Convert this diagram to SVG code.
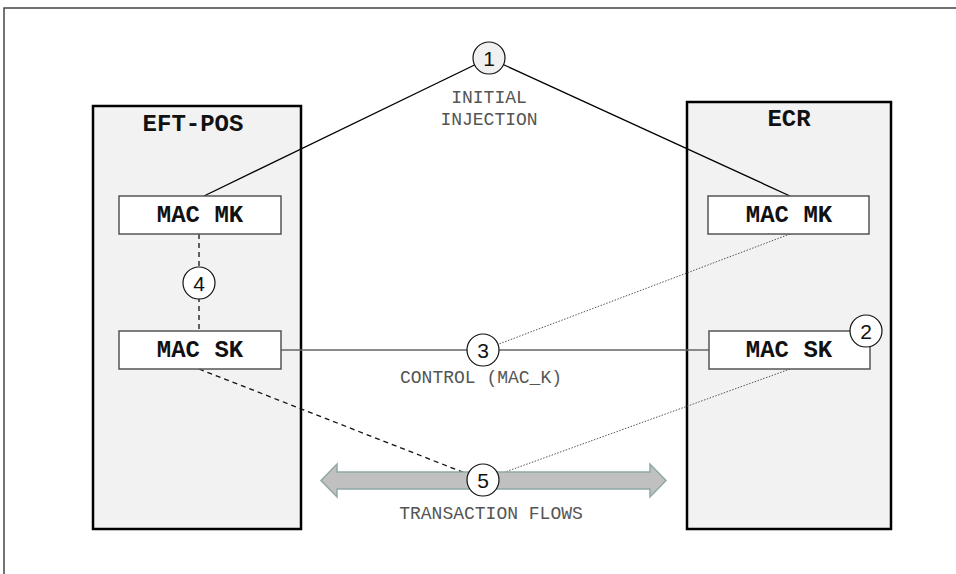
<svg xmlns="http://www.w3.org/2000/svg" width="956" height="574" viewBox="0 0 956 574">
<style>
.frame{fill:none;stroke:#444;stroke-width:1.5}
.dev{fill:#f2f2f2;stroke:#000;stroke-width:2.5}
.key{fill:#fff;stroke:#555;stroke-width:1.5}
.title{font-family:"Liberation Mono","Courier New",monospace;font-weight:bold;font-size:24px;fill:#111;text-anchor:middle}
.lbl{font-family:"Liberation Mono","Courier New",monospace;font-size:18px;fill:#555;text-anchor:middle}
.num{font-family:"Liberation Sans",Arial,sans-serif;font-size:21px;fill:#111;text-anchor:middle}
.step{fill:#fff;stroke:#111;stroke-width:1.2}
.solid{stroke:#000;stroke-width:1.3;fill:none}
.ctrl{stroke:#666;stroke-width:1.5;fill:none}
.dash{stroke:#111;stroke-width:1.3;stroke-dasharray:5,4;fill:none}
.dot{stroke:#555;stroke-width:1;stroke-dasharray:1.5,1.5;fill:none}
</style>
<rect class="frame" x="4" y="8" width="970" height="600"/>
<g id="eft-pos">
<rect class="dev" x="93" y="106" width="208" height="423"/>
<text class="title" x="193" y="131">EFT-POS</text>
</g>
<g id="ecr">
<rect class="dev" x="687" y="102" width="204" height="427"/>
<text class="title" x="789" y="126">ECR</text>
</g>
<g id="connectors">
<line class="solid" x1="489" y1="58" x2="204" y2="196"/>
<line class="solid" x1="489" y1="58" x2="790" y2="196"/>
<line class="dash" x1="199" y1="234" x2="199" y2="331"/>
<line class="ctrl" x1="281" y1="350" x2="709" y2="350"/>
<line class="dot" x1="790" y1="234" x2="483" y2="350"/>
<line class="dash" x1="199" y1="369" x2="483" y2="480"/>
<line class="dot" x1="790" y1="369" x2="483" y2="480"/>
</g>
<g id="transaction-flows">
<path d="M321,480.5 L337,464 L337,472 L650,472 L650,464 L666,480.5 L650,497 L650,489 L337,489 L337,497 Z" fill="#c0c0c0" stroke="#8fa8a8" stroke-width="1.5" stroke-linejoin="miter"/>
<text class="lbl" x="491" y="519">TRANSACTION FLOWS</text>
</g>
<g id="eft-mac-mk">
<rect class="key" x="119" y="196" width="162" height="38"/>
<text class="title" x="200" y="222">MAC MK</text>
</g>
<g id="eft-mac-sk">
<rect class="key" x="119" y="331" width="162" height="38"/>
<text class="title" x="200" y="357">MAC SK</text>
</g>
<g id="ecr-mac-mk">
<rect class="key" x="708" y="196" width="161" height="38"/>
<text class="title" x="789" y="222">MAC MK</text>
</g>
<g id="ecr-mac-sk">
<rect class="key" x="709" y="331" width="161" height="38"/>
<text class="title" x="789" y="357">MAC SK</text>
</g>
<g id="step-1">
<circle cx="489" cy="58" r="16" fill="#f0f0f0" stroke="#111" stroke-width="1.2"/>
<text class="num" x="489" y="65.5">1</text>
<text class="lbl" x="489" y="103">INITIAL</text>
<text class="lbl" x="489" y="125">INJECTION</text>
</g>
<g id="step-2">
<circle class="step" cx="866" cy="331" r="16"/>
<text class="num" x="866" y="338.5">2</text>
</g>
<g id="step-3">
<circle class="step" cx="483" cy="350" r="16"/>
<text class="num" x="483" y="357.5">3</text>
<text class="lbl" x="481" y="383">CONTROL (MAC_K)</text>
</g>
<g id="step-4">
<circle class="step" cx="199" cy="283" r="16"/>
<text class="num" x="199" y="290.5">4</text>
</g>
<g id="step-5">
<circle class="step" cx="483" cy="480" r="16"/>
<text class="num" x="483" y="487.5">5</text>
</g>
</svg>
